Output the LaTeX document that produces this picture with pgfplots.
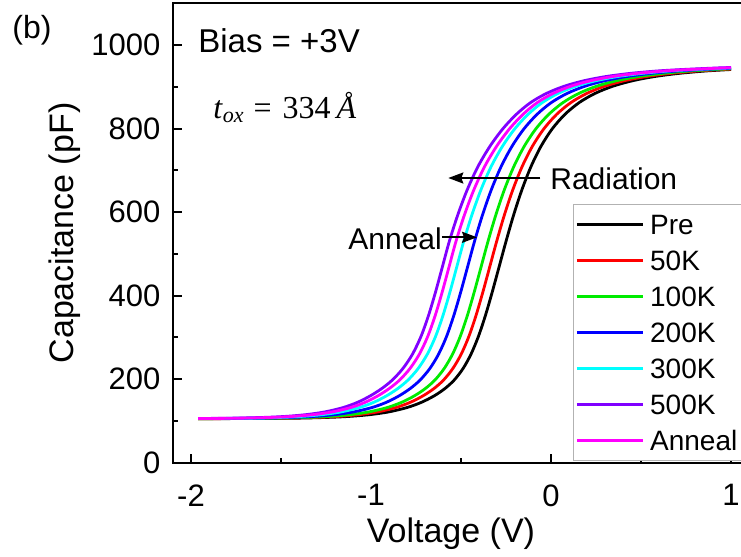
\documentclass[border=0pt]{standalone}
\usepackage{fontspec}
\setmainfont{Liberation Sans}
\newfontfamily\serif{Liberation Serif}
\usepackage{pgfplots}
\pgfplotsset{compat=1.18}
\usetikzlibrary{arrows.meta}
\definecolor{cPre}{RGB}{0,0,0}
\definecolor{cA}{RGB}{255,0,0}
\definecolor{cB}{RGB}{0,235,0}
\definecolor{cC}{RGB}{0,0,255}
\definecolor{cD}{RGB}{0,255,255}
\definecolor{cE}{RGB}{128,0,255}
\definecolor{cF}{RGB}{255,0,255}
\begin{document}
\begin{tikzpicture}
\begin{axis}[
  scale only axis, width=288pt, height=229.5pt,
  xmin=-2.1, xmax=1.1, ymin=0, ymax=1100,
  axis line style={line width=1pt},
  every tick/.style={black, line width=1pt},
  tick align=inside, major tick length=4.5pt, minor tick length=2.5pt,
  xtick pos=left, ytick pos=left,
  xtick={-2,-1,0,1}, xticklabels={-2,-1,0,1},
  minor xtick={-1.5,-0.5,0.5},
  ytick={0,200,400,600,800,1000}, yticklabels={0,200,400,600,800,1000},
  minor ytick={100,300,500,700,900},
  ticklabel style={font=\fontsize{15.5}{18}\selectfont},
  xticklabel style={yshift=-7.5pt},
  yticklabel style={xshift=-2.8pt},
  clip=false,
  legend style={at={(0.694,0.5637)}, anchor=north west, draw=gray!60, line width=0.6pt,
    fill=white, inner sep=1pt, font=\fontsize{14}{16}\selectfont, row sep=0pt, column sep=2pt,
    nodes={inner sep=1pt, text height=13pt, text depth=3pt}},
  legend cell align=left,
  legend image code/.code={\draw[#1] (0pt,0pt) -- (33pt,0pt);},
  every axis plot/.append style={line width=1.4pt, smooth},
]
\addplot[cPre] table[row sep=\\] {
V C\\ -1.96 105.08\\ -1.7 105.31\\ -1.5 105.83\\ -1.35 106.76\\ -1.2 108.71\\ -1.1 111.09\\ -1.0 115.0\\
-0.9 121.37\\ -0.8 131.67\\ -0.72 144.2\\ -0.65 159.5\\ -0.59 177.0\\ -0.5375 197.7\\ -0.488 225.6\\
-0.4439 260.1\\ -0.4036 301.8\\ -0.3655 350.7\\ -0.328 406.2\\ -0.2897 466.8\\ -0.2499 530\\ -0.2075 593.3\\
-0.1615 653.8\\ -0.111 709.3\\ -0.055 758.3\\ 0.0075 800.0\\ 0.0775 834.4\\ 0.1558 862.3\\ 0.2436 884.3\\
0.3418 901.5\\ 0.4512 914.7\\ 0.573 924.8\\ 0.7081 932.4\\ 0.8575 938.2\\ 1.0 941.8\\
};
\addlegendentry{Pre}
\addplot[cA] table[row sep=\\] {
V C\\ -1.96 105.11\\ -1.762 105.31\\ -1.562 105.83\\ -1.412 106.76\\ -1.262 108.71\\ -1.162 111.09\\ -1.062 115.0\\
-0.962 121.37\\ -0.862 131.67\\ -0.782 144.2\\ -0.712 159.5\\ -0.651 177.0\\ -0.5967 197.7\\ -0.5448 225.6\\
-0.4984 260.1\\ -0.4566 301.8\\ -0.4178 350.7\\ -0.38 406.2\\ -0.3417 466.8\\ -0.3019 530\\ -0.2589 593.3\\
-0.212 653.8\\ -0.1603 709.3\\ -0.1028 758.3\\ -0.0391 800.0\\ 0.0315 834.4\\ 0.1098 862.3\\ 0.1976 884.3\\
0.2958 901.5\\ 0.4052 914.7\\ 0.527 924.8\\ 0.6621 932.4\\ 0.8115 938.2\\ 0.954 941.8\\ 1.0 942.84\\
};
\addlegendentry{50K}
\addplot[cB] table[row sep=\\] {
V C\\ -1.96 105.14\\ -1.81 105.31\\ -1.61 105.83\\ -1.46 106.76\\ -1.31 108.71\\ -1.21 111.09\\ -1.11 115.0\\
-1.01 121.37\\ -0.91 131.67\\ -0.83 144.2\\ -0.76 159.5\\ -0.699 177.0\\ -0.6447 197.7\\ -0.5928 225.6\\
-0.5464 260.1\\ -0.5046 301.8\\ -0.4658 350.7\\ -0.428 406.2\\ -0.3897 466.8\\ -0.3499 530\\ -0.3065 593.3\\
-0.259 653.8\\ -0.2065 709.3\\ -0.148 758.3\\ -0.0835 800.0\\ -0.0125 834.4\\ 0.0658 862.3\\ 0.1536 884.3\\
0.2518 901.5\\ 0.3612 914.7\\ 0.483 924.8\\ 0.6181 932.4\\ 0.7675 938.2\\ 0.91 941.8\\ 1.0 943.64\\
};
\addlegendentry{100K}
\addplot[cC] table[row sep=\\] {
V C\\ -1.96 105.22\\ -1.895 105.31\\ -1.695 105.83\\ -1.545 106.76\\ -1.395 108.71\\ -1.295 111.09\\ -1.195 115.0\\
-1.095 121.37\\ -0.995 131.67\\ -0.915 144.2\\ -0.845 159.5\\ -0.783 177.0\\ -0.7269 197.7\\ -0.6726 225.6\\
-0.6239 260.1\\ -0.5806 301.8\\ -0.5411 350.7\\ -0.503 406.2\\ -0.4647 466.8\\ -0.4249 530\\ -0.3805 593.3\\
-0.3315 653.8\\ -0.277 709.3\\ -0.216 758.3\\ -0.1495 800.0\\ -0.0775 834.4\\ 0.0008 862.3\\ 0.0886 884.3\\
0.1868 901.5\\ 0.2962 914.7\\ 0.418 924.8\\ 0.5531 932.4\\ 0.7025 938.2\\ 0.845 941.8\\ 1.0 944.83\\
};
\addlegendentry{200K}
\addplot[cD] table[row sep=\\] {
V C\\ -1.96 105.31\\ -1.765 105.83\\ -1.615 106.76\\ -1.465 108.71\\ -1.365 111.09\\ -1.265 115.0\\
-1.165 121.37\\ -1.065 131.67\\ -0.985 144.2\\ -0.915 159.5\\ -0.852 177.0\\ -0.7941 197.7\\ -0.7374 225.6\\
-0.6864 260.1\\ -0.6416 301.8\\ -0.6014 350.7\\ -0.563 406.2\\ -0.5247 466.8\\ -0.4849 530\\ -0.4395 593.3\\
-0.389 653.8\\ -0.3325 709.3\\ -0.269 758.3\\ -0.2005 800.0\\ -0.1275 834.4\\ -0.0492 862.3\\ 0.0386 884.3\\
0.1368 901.5\\ 0.2462 914.7\\ 0.368 924.8\\ 0.5031 932.4\\ 0.6525 938.2\\ 0.795 941.8\\ 1.0 945.7\\
};
\addlegendentry{300K}
\addplot[cE] table[row sep=\\] {
V C\\ -1.96 105.49\\ -1.855 105.83\\ -1.705 106.76\\ -1.555 108.71\\ -1.455 111.09\\ -1.355 115.0\\
-1.255 121.37\\ -1.155 131.67\\ -1.075 144.2\\ -1.005 159.5\\ -0.941 177.0\\ -0.8813 197.7\\ -0.8222 225.6\\
-0.7689 260.1\\ -0.7226 301.8\\ -0.6817 350.7\\ -0.643 406.2\\ -0.6047 466.8\\ -0.5649 530\\ -0.518 593.3\\
-0.4652 653.8\\ -0.4058 709.3\\ -0.3385 758.3\\ -0.267 800.0\\ -0.1925 834.4\\ -0.1142 862.3\\ -0.0264 884.3\\
0.0718 901.5\\ 0.1812 914.7\\ 0.303 924.8\\ 0.4381 932.4\\ 0.5875 938.2\\ 0.73 941.8\\ 0.9328 945.7\\ 1.0 946.5\\
};
\addlegendentry{500K}
\addplot[cF] table[row sep=\\] {
V C\\ -1.96 105.40\\ -1.813 105.83\\ -1.663 106.76\\ -1.513 108.71\\ -1.413 111.09\\ -1.313 115.0\\
-1.213 121.37\\ -1.113 131.67\\ -1.033 144.2\\ -0.963 159.5\\ -0.8995 177.0\\ -0.8407 197.7\\ -0.7828 225.6\\
-0.7307 260.1\\ -0.6851 301.8\\ -0.6445 350.7\\ -0.606 406.2\\ -0.5677 466.8\\ -0.5279 530\\ -0.481 593.3\\
-0.4282 653.8\\ -0.3688 709.3\\ -0.3015 758.3\\ -0.23 800.0\\ -0.1555 834.4\\ -0.0772 862.3\\ 0.0106 884.3\\
0.1088 901.5\\ 0.2182 914.7\\ 0.34 924.8\\ 0.4751 932.4\\ 0.6245 938.2\\ 0.767 941.8\\ 0.9698 945.7\\ 1.0 946.07\\
};
\addlegendentry{Anneal}
\draw[line width=1pt, -{Stealth[length=7.5pt, width=5.5pt, inset=1pt]}] (axis cs:-0.059,681.8) -- (axis cs:-0.5706,681.8);
\draw[line width=1pt, -{Stealth[length=7.5pt, width=5.5pt, inset=1pt]}] (axis cs:-0.6056,539.7) -- (axis cs:-0.411,539.7);
\node[anchor=base west, font=\fontsize{15}{18}\selectfont, inner sep=0pt] at (rel axis cs:0.6545,0.5937) {Radiation};
\node[anchor=base west, font=\fontsize{15}{18}\selectfont, inner sep=0pt] at (rel axis cs:0.3038,0.463) {Anneal};
\node[anchor=base west, font=\fontsize{16.5}{19}\selectfont, inner sep=0pt] at (rel axis cs:0.0434,0.8922) {Bias = +3V};
\node[anchor=base west, inner sep=0pt] at (rel axis cs:0.0694,0.7505) {\fontsize{16}{19}\selectfont\serif\textit{t}\raisebox{-0.3ex}{\fontsize{11}{12}\selectfont\textit{ox}}\hspace{5pt}=\hspace{5.5pt}334\hspace{3pt}\textit{Å}};
\node[anchor=base west, font=\fontsize{16}{19}\selectfont, inner sep=0pt] at (rel axis cs:-0.2795,0.9237) {(b)};
\node[anchor=base, font=\fontsize{17}{20}\selectfont, inner sep=0pt] at (rel axis cs:0.4826,-0.1743) {Voltage (V)};
\node[anchor=base, rotate=90, font=\fontsize{17}{20}\selectfont, inner sep=0pt] at (rel axis cs:-0.1719,0.5) {Capacitance (pF)};
\coordinate (bbsw) at (rel axis cs:0,0);
\coordinate (bbne) at (rel axis cs:1,1);
\end{axis}
\pgfresetboundingbox
\path[use as bounding box] ([xshift=-86.5pt,yshift=-46.75pt]bbsw) rectangle ([xshift=-4pt,yshift=1.75pt]bbne);
\end{tikzpicture}
\end{document}
